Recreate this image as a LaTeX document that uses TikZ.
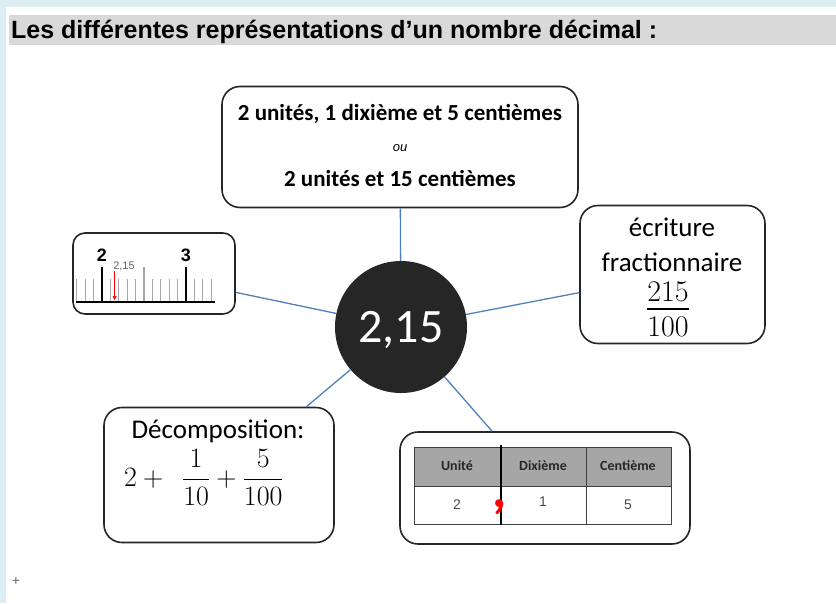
\RequirePackage{fix-cm}
\documentclass[tikz,border=0pt]{standalone}
\usepackage{amsmath}
\usepackage{fontspec}
\setmainfont{Carlito}
\newfontfamily\arialfont{Liberation Sans}
\usepackage{tikz}
\usetikzlibrary{arrows.meta}
\definecolor{pageblue}{HTML}{DCEEF4}
\definecolor{titlegray}{HTML}{D9D9D9}
\definecolor{linkblue}{HTML}{4F81BD}
\definecolor{boxline}{HTML}{262626}
\definecolor{headgray}{HTML}{A6A6A6}
\tikzset{
	bubble/.style={draw=boxline,line width=1.6pt,rounded corners=18pt,inner sep=0pt},
	link/.style={draw=linkblue,line width=1.3pt},
	minortick/.style={draw=gray!70,line width=1.1pt},
	majortick/.style={draw=black,line width=2.8pt},
	boxtext/.style={anchor=base,inner sep=0pt,font=\fontsize{27}{31}\selectfont},
	cell/.style={text=black!70,font=\arialfont\fontsize{14}{16}\selectfont},
}

\begin{document}
\begin{tikzpicture}[x=1pt,y=-1pt]
	\useasboundingbox (0,0) rectangle (836,603);
	\fill[pageblue] (0,0) rectangle (836,603);
	\fill[white] (6,7) rectangle (836,603);
	\fill[titlegray] (9,15) rectangle (836,45);
	\node[anchor=base west,inner sep=0pt,font=\arialfont\bfseries\fontsize{25}{29}\selectfont] (title) at (11,38) {Les différentes représentations d’un nombre décimal :};

	\node[circle,fill=boxline,minimum size=132pt,inner sep=0pt] (ctr) at (401,327) {};
	\node[anchor=base,inner sep=0pt,text=white,font=\fontsize{48}{56}\selectfont] (num) at (401,342) {2,15};

	% unites
	\node[bubble,minimum width=356pt,minimum height=121pt] (units) at (400,147) {};
	\node[boxtext,font=\bfseries\fontsize{23}{27}\selectfont] (u1) at (400,120) {2 unités, 1 dixième et 5 centièmes};
	\node[boxtext,font=\arialfont\itshape\fontsize{13}{15}\selectfont] (u2) at (400,151) {ou};
	\node[boxtext,font=\bfseries\fontsize{23}{27}\selectfont] (u3) at (400,186) {2 unités et 15 centièmes};

	% fraction
	\node[bubble,minimum width=185pt,minimum height=138pt] (frac) at (672.5,274.5) {};
	\node[boxtext] (f1) at (672,236) {écriture};
	\node[boxtext] (f2) at (672,271) {fractionnaire};
	\node[anchor=base,inner sep=0pt,font=\fontsize{30}{34}\selectfont] (numer) at (668,301) {$215$};
	\node[anchor=base,inner sep=0pt,font=\fontsize{30}{34}\selectfont] (denom) at (668,336) {$100$};
	\draw[line width=1.3pt] (numer.south west |- 0,309) -- (numer.south east |- 0,309);

	% decomposition
	\node[bubble,minimum width=230pt,minimum height=135pt] (dec) at (219,475) {};
	\node[boxtext] (d1) at (218,438) {Décomposition:};
	\node[anchor=base west,inner sep=0pt,font=\fontsize{28}{32}\selectfont] (d2) at (124,486) {$2+\;\,\dfrac{1}{10}+\dfrac{5}{100}$};

	% regle
	\node[bubble,rounded corners=12pt,minimum width=162pt,minimum height=81pt] (ruler) at (154,273.5) {};
	\foreach \i in {-3,...,13}{
		\draw[minortick] (102+8.4*\i,279) -- (102+8.4*\i,302);
	}
	\draw[minortick] (144,267) -- (144,302);
	\foreach \i in {0,10}{
		\draw[majortick] (102+8.4*\i,267) -- (102+8.4*\i,302);
	}
	\draw[line width=2.5pt] (76,302) -- (215,302);
	\node[font=\arialfont\bfseries\fontsize{18}{20}\selectfont] (two) at (102,255) {2};
	\node[font=\arialfont\bfseries\fontsize{18}{20}\selectfont] (three) at (186,255) {3};
	\node[text=gray!80!black,font=\arialfont\fontsize{11}{13}\selectfont] (mark) at (124,266) {2,15};
	\draw[red,line width=0.6pt,-{Triangle[length=4pt,width=4pt]}] (114.6,271) -- (114.6,300);

	% tableau
	\node[bubble,minimum width=290pt,minimum height=112pt] (tab) at (545,488) {};
	\fill[headgray] (414,447) rectangle (671,486);
	\draw[line width=0.8pt,black!75] (414,447) rectangle (671,524);
	\draw[line width=0.8pt,black!75] (414,486) -- (671,486);
	\draw[line width=0.8pt,black!75] (586,447) -- (586,524);
	\draw[line width=2pt] (501,445) -- (501,525);
	\foreach \x/\t in {457/Unité,543/Dixième,628/Centième}{
		\node[text=black!85,font=\bfseries\fontsize{14}{16}\selectfont] at (\x,466) {\t};
	}
	\node[cell] (v1) at (457,505) {2};
	\node[cell] (v2) at (543,502) {1};
	\node[cell] (v3) at (628,505) {5};
	\node[anchor=base,inner sep=0pt,text=red,font=\bfseries\fontsize{55}{55}\selectfont] (comma) at (500,507) {,};

	\draw[link] (ctr) -- (units);
	\draw[link] (ctr) -- (ruler.-13);
	\draw[link] (ctr) -- (frac.191);
	\draw[link] (ctr) -- (dec.38);
	\draw[link] (ctr) -- (tab.133);

	\node[text=black!60,font=\arialfont\fontsize{14}{16}\selectfont] (plus) at (16,581) {+};
\end{tikzpicture}
\end{document}
